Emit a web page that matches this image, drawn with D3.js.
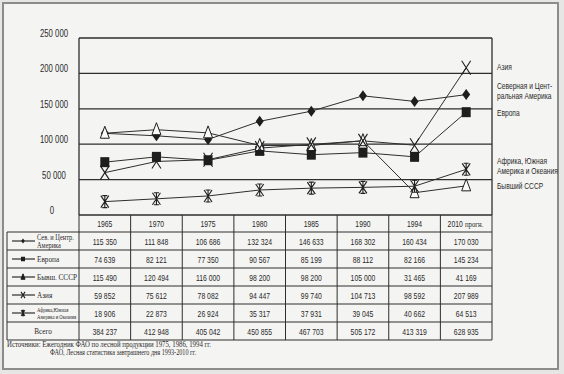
<!DOCTYPE html>
<html lang="ru">
<head>
<meta charset="utf-8"/>
<title>Лесная продукция</title>
<script src="https://d3js.org/d3.v7.min.js"></script>
<style>
  body { margin: 0; background: #e6e6e4; }
  svg { display: block; }
  .narrow { font-family: "Liberation Sans", Arial, sans-serif; fill: #2a2a2a; }
  .serif { font-family: "Liberation Serif", "DejaVu Serif", serif; fill: #2a2a2a; }
</style>
</head>
<body>
<svg id="chart" width="564" height="374"></svg>
<script>
// data
const years = ["1965", "1970", "1975", "1980", "1985", "1990", "1994", "2010 прогн."];
const namerica = [115350, 111848, 106686, 132324, 146633, 168302, 160434, 170030];
const europe = [74639, 82121, 77350, 90567, 85199, 88112, 82166, 145234];
const ussr = [115490, 120494, 116000, 98200, 98200, 105000, 31465, 41169];
const asia = [59852, 75612, 78082, 94447, 99740, 104713, 98592, 207989];
const africa = [18906, 22873, 26924, 35317, 37931, 39045, 40662, 64513];
const total = [384237, 412948, 405042, 450855, 467703, 505172, 413319, 628935];
const yTicks = [0, 50000, 100000, 150000, 200000, 250000];

const series = [
  {key: "namerica", vals: namerica, mark: "diamond", row: ["Сев. и Центр.", "Америка"], legend: ["Северная и Цент-", "ральная Америка"], ly: 86},
  {key: "europe", vals: europe, mark: "square", row: ["Европа"], legend: ["Европа"], ly: 113},
  {key: "ussr", vals: ussr, mark: "triangle", row: ["Бывш. СССР"], legend: ["Бывший СССР"], ly: 186},
  {key: "asia", vals: asia, mark: "cross", row: ["Азия"], legend: ["Азия"], ly: 67},
  {key: "africa", vals: africa, mark: "star", row: ["Африка,Южная", "Америка и Океания"], legend: ["Африка, Южная", "Америка и Океания"], ly: 161}
];

const svg = d3.select("#chart");
const ink = "#2e2e2e";

// condensed text: horizontal squeeze, since no narrow face is installed
function ntext(g, cls, x0, y0, str, size, sx, anchor) {
  return g.append("text").attr("class", cls)
    .attr("transform", `translate(${x0},${y0}) scale(${sx},1)`)
    .attr("font-size", size).attr("text-anchor", anchor || "start")
    .text(str);
}

// page frame
svg.append("rect").attr("x", 3).attr("y", 3).attr("width", 555).attr("height", 366)
  .attr("fill", "#f4f4f2").attr("stroke", "#8c8c8c").attr("stroke-width", 2);

const x = d3.scaleBand().domain(years).range([79, 492]);
const y = d3.scaleLinear().domain([0, 250000]).range([215, 38]);
const cx = d => x(d) + x.bandwidth() / 2;
const fmt = d3.formatLocale({decimal: ",", thousands: " ", grouping: [3], currency: ["", ""]}).format(",d");

// gridlines
svg.append("g").selectAll("line").data(yTicks).join("line")
  .attr("x1", 79).attr("x2", 492)
  .attr("y1", d => y(d)).attr("y2", d => y(d))
  .attr("stroke", ink).attr("stroke-width", 1.3);
svg.append("line").attr("x1", 79).attr("x2", 79).attr("y1", y(250000)).attr("y2", 215)
  .attr("stroke", ink).attr("stroke-width", 1.3);
svg.append("line").attr("x1", 492).attr("x2", 492).attr("y1", y(250000)).attr("y2", 215)
  .attr("stroke", ink).attr("stroke-width", 1.3);

const yAx = svg.append("g");
yTicks.forEach(d => ntext(yAx, "narrow", d === 0 ? 52 : 54, y(d) - 1, fmt(d), 10, 0.78, "middle"));

// markers
function drawMark(g, type, s) {
  if (type === "diamond") {
    g.append("path").attr("d", `M0,${-5.5*s}L${4*s},0L0,${5.5*s}L${-4*s},0Z`).attr("fill", "#1e1e1e");
  } else if (type === "square") {
    g.append("rect").attr("x", -4.5*s).attr("y", -5*s).attr("width", 9*s).attr("height", 10*s).attr("fill", "#1e1e1e");
  } else if (type === "triangle") {
    g.append("path").attr("d", `M0,${-7*s}L${4.5*s},${5*s}L${-4.5*s},${5*s}Z`)
      .attr("fill", s < 1 ? "#1e1e1e" : "#fafafa").attr("stroke", "#1e1e1e").attr("stroke-width", 1);
  } else if (type === "cross") {
    g.append("path").attr("d", `M${-4.5*s},${-7*s}L${4.5*s},${7*s}M${4.5*s},${-7*s}L${-4.5*s},${7*s}`)
      .attr("stroke", "#1e1e1e").attr("stroke-width", 1.1).attr("fill", "none");
  } else {
    g.append("path").attr("d", `M${-4*s},${-6*s}L${4*s},${6*s}M${4*s},${-6*s}L${-4*s},${6*s}M0,${-6*s}L0,${6*s}M${-2.5*s},${-6*s}L${2.5*s},${-6*s}M${-2.5*s},${6*s}L${2.5*s},${6*s}`)
      .attr("stroke", "#1e1e1e").attr("stroke-width", 1.1).attr("fill", "none");
  }
}

const line = d3.line().x((d, i) => cx(years[i])).y(d => y(d));
series.forEach(s => {
  svg.append("path").datum(s.vals).attr("d", line)
    .attr("fill", "none").attr("stroke", ink).attr("stroke-width", 1);
});
series.forEach(s => {
  s.vals.forEach((v, i) => {
    const g = svg.append("g").attr("transform", `translate(${cx(years[i])},${y(v)})`);
    drawMark(g, s.mark, 1);
  });
});

// right legend
const lg = svg.append("g");
series.forEach(s => {
  s.legend.forEach((t, j) => ntext(lg, "narrow", 497, s.ly + 3 + j * 10, t, 9, 0.74));
});

// table
const rowH = 18, tTop = 232;
const rows = series.map(s => s.vals).concat([total]);
const tBottom = tTop + rows.length * rowH;
const tg = svg.append("g");
d3.range(rows.length + 1).forEach(i => {
  tg.append("line").attr("x1", 7).attr("x2", 492)
    .attr("y1", tTop + i * rowH).attr("y2", tTop + i * rowH)
    .attr("stroke", ink).attr("stroke-width", 1);
});
tg.append("line").attr("x1", 7).attr("x2", 7).attr("y1", tTop).attr("y2", tBottom).attr("stroke", ink);
years.forEach(yr => {
  tg.append("line").attr("x1", x(yr)).attr("x2", x(yr)).attr("y1", 215).attr("y2", tBottom).attr("stroke", ink);
});
tg.append("line").attr("x1", 492).attr("x2", 492).attr("y1", 215).attr("y2", tBottom).attr("stroke", ink);

// header
years.forEach(yr => {
  if (yr === "2010 прогн.") {
    ntext(tg, "narrow", cx(yr) - 11, 227, "2010", 9.5, 0.72, "middle");
    ntext(tg, "serif", cx(yr) + 8, 227, "прогн.", 8, 0.85, "middle");
  } else {
    ntext(tg, "narrow", cx(yr), 227, yr, 9.5, 0.72, "middle");
  }
});

rows.forEach((vals, r) => {
  const ry = tTop + r * rowH + rowH / 2;
  vals.forEach((v, i) => ntext(tg, "narrow", cx(years[i]), ry + 3.5, fmt(v), 9.5, 0.72, "middle"));
});

// row labels
series.forEach((s, r) => {
  const ry = tTop + r * rowH + rowH / 2;
  tg.append("line").attr("x1", 12).attr("x2", 35).attr("y1", ry).attr("y2", ry).attr("stroke", ink).attr("stroke-width", 1.2);
  const g = tg.append("g").attr("transform", `translate(23,${ry})`);
  drawMark(g, s.mark, 0.45);
  const small = s.row.length > 1;
  s.row.forEach((t, j) => {
    if (s.key === "africa") {
      ntext(tg, "serif", 37, ry - 1.5 + j * 7.5, t, 6.5, 0.72);
    } else if (small) {
      ntext(tg, "serif", 37, ry - 1.5 + j * 8, t, 7.5, 0.85);
    } else {
      ntext(tg, "serif", 37, ry + 3, t, 8.5, 0.85);
    }
  });
});
ntext(tg, "serif", 43, tTop + 5 * rowH + rowH / 2 + 3, "Всего", 8.5, 0.85, "middle");

// footer
svg.append("text").attr("class", "serif").attr("x", 7).attr("y", 347).attr("font-size", 8)
  .attr("textLength", 204).attr("lengthAdjust", "spacingAndGlyphs")
  .text("Источники: Ежегодник ФАО по лесной продукции 1975, 1986, 1994 гг.");
svg.append("text").attr("class", "serif").attr("x", 50).attr("y", 355).attr("font-size", 8)
  .attr("textLength", 146).attr("lengthAdjust", "spacingAndGlyphs")
  .text("ФАО, Лесная статистика завтрашнего дня 1993-2010 гг.");
</script>
</body>
</html>
